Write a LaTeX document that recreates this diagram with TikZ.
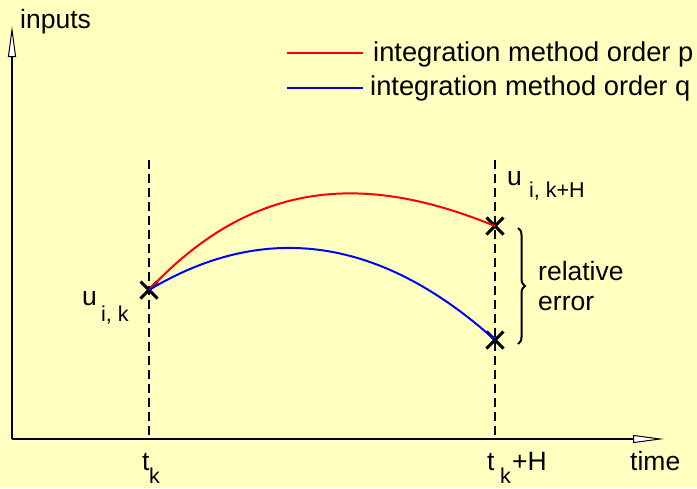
\documentclass[tikz,border=0pt]{standalone}
\usepackage{fontspec}
\setmainfont{Liberation Sans}
\usetikzlibrary{arrows.meta,shapes.misc,decorations.pathreplacing}
\definecolor{bgyellow}{RGB}{255,255,192}
\definecolor{redc}{RGB}{255,0,0}
\definecolor{bluec}{RGB}{0,0,255}
\begin{document}
\begin{tikzpicture}[x=1pt,y=-1pt,
  lbl/.style={inner sep=0pt,anchor=base west,font=\fontsize{26.5}{30}\selectfont},
  leglbl/.style={inner sep=0pt,anchor=base west,font=\fontsize{27.3}{30}\selectfont},
  sublbl/.style={inner sep=0pt,anchor=base west,font=\fontsize{21.5}{24}\selectfont},
  axisline/.style={line width=1.3pt,-{Triangle[length=31pt,width=8pt,fill=white,line width=1pt]}},
  guide/.style={line width=1.1pt,dash pattern=on 9pt off 5pt},
  crossmark/.style={cross out,draw,line width=3pt,minimum size=14pt,inner sep=0pt},
  curvep/.style={redc,line width=2pt},
  curveq/.style={bluec,line width=2pt}]
\fill[bgyellow] (0,0) rectangle (697,488);
\useasboundingbox (0,0) rectangle (697,488);
% axes
\coordinate (O) at (12,439);
\coordinate (ytip) at (12,26);
\coordinate (xtip) at (664,439);
\draw[guide] (149,160) coordinate (d1t) -- (149,439) coordinate (d1b);
\draw[guide] (495,160) coordinate (d2t) -- (495,439) coordinate (d2b);
\draw[axisline] (O) -- (ytip);
\draw[axisline] (O) -- (xtip);
% crosses
\node[crossmark] (A) at (149,290) {};
\node[crossmark] (B) at (495,226) {};
\node[crossmark] (C) at (495,340) {};
% curves
\draw[curvep] (A.center) .. controls (259,172) and (375,177) .. (B.center);
\draw[curveq] (A.center) .. controls (259,224) and (375,232) .. (C.center);
% legend
\coordinate (lr1) at (287,53); \coordinate (lr2) at (363,53);
\coordinate (lb1) at (287,88); \coordinate (lb2) at (363,88);
\draw[curvep] (lr1) -- (lr2);
\draw[curveq] (lb1) -- (lb2);
\node[leglbl] (legp) at (373,61) {integration method order p};
\node[leglbl] (legq) at (370,95) {integration method order q};
% labels
\node[lbl] (inputs) at (20,28) {inputs};
\node[lbl] (time) at (630,470) {time};
\node[lbl] (t1) at (142,470) {t};
\node[sublbl] (k1) at (149,483) {k};
\node[lbl] (t2) at (487,470) {t};
\node[sublbl] (k2) at (500,483) {k};
\node[lbl] (pH) at (512,470) {+H};
\node[lbl] (u1) at (82,305) {u};
\node[sublbl] (s1) at (101,321) {i, k};
\node[lbl] (u2) at (507,185) {u};
\node[sublbl] (s2) at (529,197) {i, k+H};
% brace
\coordinate (bt) at (518,228);
\coordinate (bb) at (518,344);
\draw[line width=2pt,decorate,decoration={brace,amplitude=7pt}] (bt) -- (bb);
\node[lbl] (rel) at (538,280) {relative};
\node[lbl] (err) at (538,310) {error};
\end{tikzpicture}
\end{document}
